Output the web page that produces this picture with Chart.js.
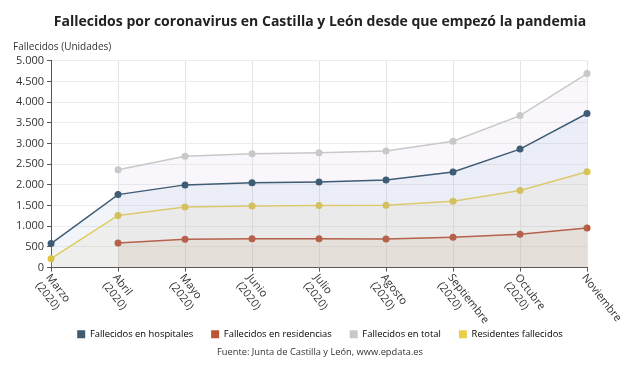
<!DOCTYPE html>
<html>
<head>
<meta charset="utf-8">
<script src="https://cdn.jsdelivr.net/npm/chart.js@4.4.0/dist/chart.umd.min.js"></script>
<style>
  html, body { margin: 0; padding: 0; background: #fff; }
  #wrap { width: 640px; height: 376px; }
</style>
</head>
<body>
<div id="wrap"><canvas id="fallecidos"></canvas></div>
<script>
// months (two-line labels on the x axis)
var meses = [
  ['Marzo', '(2020)'], ['Abril', '(2020)'], ['Mayo', '(2020)'], ['Junio', '(2020)'],
  ['Julio', '(2020)'], ['Agosto', '(2020)'], ['Septiembre', '(2020)'], ['Octubre', '(2020)'],
  ['Noviembre']
]
var hospitales  = [580, 1765, 2000, 2050, 2070, 2120, 2310, 2865, 3725]
var residencias = [null, 595, 685, 695, 695, 692, 732, 805, 960]
var total       = [null, 2365, 2690, 2755, 2775, 2822, 3057, 3675, 4690]
var residentes  = [215, 1262, 1463, 1490, 1500, 1505, 1602, 1862, 2318]
var yTicks = [0, 500, 1000, 1500, 2000, 2500, 3000, 3500, 4000, 4500, 5000]

var fuente = 'Open Sans'

function miles(v){
  return String(v).replace(/\B(?=(\d{3})+(?!\d))/g, '.')
}

// draws rotated month labels + source line
var extras = {
  id: 'extras',
  afterDraw: function(chart){
    var ctx = chart.ctx
    var x = chart.scales.x
    var bottom = chart.chartArea.bottom
    ctx.save()
    ctx.fillStyle = '#333'
    ctx.font = '11px "' + fuente + '"'
    ctx.textAlign = 'left'
    ctx.textBaseline = 'middle'
    meses.forEach(function(m, i){
      var px = x.getPixelForValue(i)
      ctx.save()
      ctx.translate(px - 3, bottom + 8)
      ctx.rotate(52 * Math.PI / 180)
      for (var k = 0; k < m.length; k++) {
        ctx.fillText(m[k], 0, k * 13)
      }
      ctx.restore()
    })
    ctx.textAlign = 'center'
    ctx.font = '9.3px "' + fuente + '"'
    ctx.fillText('Fuente: Junta de Castilla y León, www.epdata.es', 320, 352)
    ctx.restore()
  }
}

var ctx = document.getElementById('fallecidos').getContext('2d')

var chart = new Chart(ctx, {
  type: 'line',
  data: {
    labels: meses.map(function(m){ return m.join(' ') }),
    datasets: [{
      label: 'Fallecidos en hospitales',
      data: hospitales,
      borderColor: '#3f5c75',
      backgroundColor: 'rgba(150,180,215,0.13)',
      pointBackgroundColor: '#3f5c75',
      fill: 'origin'
    }, {
      label: 'Fallecidos en residencias',
      data: residencias,
      borderColor: '#bb5536',
      backgroundColor: 'rgba(210,170,115,0.17)',
      pointBackgroundColor: '#bb5536',
      fill: 'origin'
    }, {
      label: 'Fallecidos en total',
      data: total,
      borderColor: '#c8c8c8',
      backgroundColor: 'rgba(210,190,230,0.12)',
      pointBackgroundColor: '#c8c8c8',
      fill: 'origin'
    }, {
      label: 'Residentes fallecidos',
      data: residentes,
      borderColor: '#ead04a',
      backgroundColor: 'rgba(232,212,150,0.15)',
      pointBackgroundColor: '#e0c43c',
      fill: 'origin'
    }]
  },
  options: {
    responsive: true,
    maintainAspectRatio: false,
    animation: false,
    layout: { padding: { left: 13, right: 13, top: 4, bottom: 27 } },
    elements: {
      line: { borderWidth: 1.5, tension: 0 },
      point: { radius: 3.5, borderWidth: 0 }
    },
    plugins: {
      title: {
        display: true,
        text: 'Fallecidos por coronavirus en Castilla y León desde que empezó la pandemia',
        color: '#222',
        font: { family: fuente, size: 14, weight: 'bold' },
        padding: { top: 10, bottom: 10 }
      },
      subtitle: {
        display: true,
        text: 'Fallecidos (Unidades)',
        align: 'start',
        color: '#333',
        font: { family: fuente, size: 10 },
        padding: { top: 0, bottom: 8 }
      },
      legend: {
        position: 'bottom',
        labels: {
          boxWidth: 8,
          boxHeight: 8,
          padding: 18,
          color: '#333',
          font: { family: fuente, size: 9.4 },
          generateLabels: function(c){
            return c.data.datasets.map(function(d, i){
              return { text: d.label, fillStyle: d.borderColor, strokeStyle: d.borderColor, lineWidth: 0, datasetIndex: i }
            })
          }
        }
      },
      tooltip: { enabled: false }
    },
    scales: {
      x: {
        offset: false,
        grid: { color: '#e4e4e4', drawTicks: true, tickLength: 4, tickColor: '#555' },
        border: { color: '#555', width: 1 },
        ticks: { display: false },
        afterFit: function(s){ s.height = 44 }
      },
      y: {
        min: 0,
        max: 5000,
        afterBuildTicks: function(s){ s.ticks = yTicks.map(function(v){ return { value: v } }) },
        grid: { color: '#ececec', drawTicks: true, tickLength: 4, tickColor: '#555' },
        border: { color: '#555', width: 1 },
        ticks: {
          color: '#333',
          padding: 3,
          font: { family: fuente, size: 11 },
          callback: function(v){ return miles(v) }
        }
      },
      // empty right-hand spacer so the plot ends where the reference does
      margen: {
        type: 'linear',
        position: 'right',
        grid: { display: false },
        border: { display: false },
        ticks: { display: false },
        afterFit: function(s){ s.width = 40 }
      }
    }
  },
  plugins: [extras]
})
</script>
</body>
</html>
